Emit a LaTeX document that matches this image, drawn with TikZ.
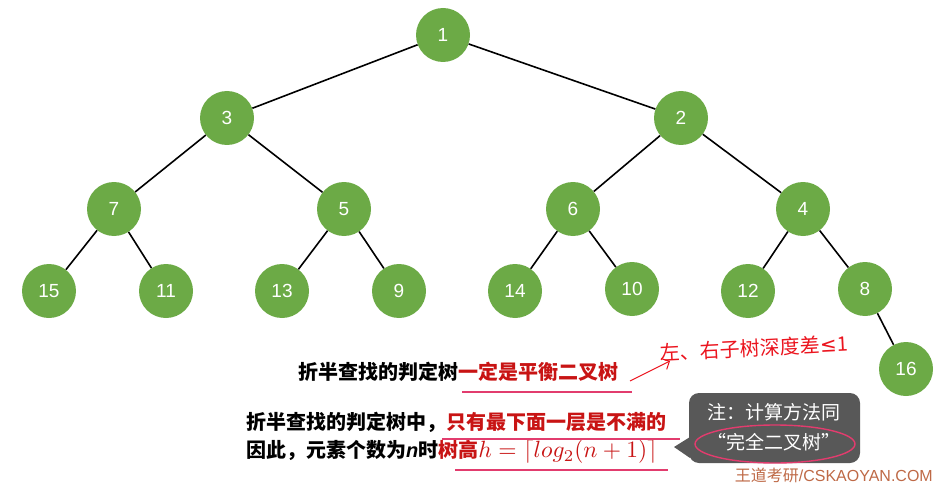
\documentclass[tikz,border=0pt]{standalone}
\usepackage{graphicx}
\usepackage{fontspec}
\setmainfont{Liberation Sans}
\newfontfamily\cjk{Noto Sans CJK SC}
\newfontfamily\djv{DejaVu Sans}
\usetikzlibrary{arrows.meta}
\definecolor{tgreen}{RGB}{108,170,70}
\definecolor{dred}{RGB}{200,20,20}
\definecolor{hred}{RGB}{235,20,30}
\definecolor{upink}{RGB}{226,60,110}
\definecolor{bubble}{RGB}{88,88,88}
\definecolor{wm}{RGB}{190,105,70}
\begin{document}
\begin{tikzpicture}[x=1pt,y=-1pt,
  tnode/.style={circle,fill=tgreen,minimum size=54pt,inner sep=0pt,text=white,font=\fontsize{19}{19}\selectfont},
  edge/.style={line width=1.6pt,black},
  uline/.style={line width=1.2pt,upink},
  txt/.style={anchor=west,inner sep=0pt,font=\cjk\bfseries\fontsize{20}{20}\selectfont}]
\useasboundingbox (0,0) rectangle (942,484);
\node[tnode] (n1) at (443,35) {1};
\node[tnode] (n3) at (227,118) {3};
\node[tnode] (n2) at (681,118) {2};
\node[tnode] (n7) at (114,209) {7};
\node[tnode] (n5) at (344,209) {5};
\node[tnode] (n6) at (573,209) {6};
\node[tnode] (n4) at (803,209) {4};
\node[tnode] (n15) at (49,291) {15};
\node[tnode] (n11) at (166,291) {11};
\node[tnode] (n13) at (282,291) {13};
\node[tnode] (n9) at (399,291) {9};
\node[tnode] (n14) at (515,291) {14};
\node[tnode] (n10) at (632,289) {10};
\node[tnode] (n12) at (748,291) {12};
\node[tnode] (n8) at (865,289) {8};
\node[tnode] (n16) at (906,369) {16};
\foreach \a/\b in {n1/n3,n1/n2,n3/n7,n3/n5,n2/n6,n2/n4,n7/n15,n7/n11,n5/n13,n5/n9,n6/n14,n6/n10,n4/n12,n4/n8,n8/n16}
  \draw[edge] (\a) -- (\b);
% text lines
\node[txt] (l1) at (298,372) {折半查找的判定树\textcolor{dred}{一定是平衡二叉树}};
\node[txt] (l2) at (246,422) {折半查找的判定树中，\textcolor{dred}{只有最下面一层是不满的}};
\node[txt] (l3) at (246,452) {因此，元素个数为{\fontspec{Liberation Sans}\bfseries\itshape n}时\textcolor{dred}{树高{\fontsize{10}{12}\selectfont\scalebox{2.35}{$h=\lceil log_2(n+1)\rceil$}}}};
\coordinate (u1a) at (462,392); \coordinate (u1b) at (632,392);
\coordinate (u2a) at (442,439); \coordinate (u2b) at (680,439);
\coordinate (u3a) at (455,470); \coordinate (u3b) at (668,470);
\draw[uline] (u1a) -- (u1b);
\draw[uline] (u2a) -- (u2b);
\draw[uline] (u3a) -- (u3b);
% handwritten note
\coordinate (ha) at (630,381); \coordinate (hb) at (670,361);
\draw[hred,line width=1pt,-{Straight Barb[length=6pt]}] (ha) -- (hb);
\node[anchor=west,inner sep=0pt,text=hred,rotate=3,font=\cjk\fontsize{20}{20}\selectfont] (hw) at (660,353) {左、右子树深度差{\djv ≤}1};
% callout
\fill[bubble,rounded corners=10pt] (689,393) rectangle (860,463);
\coordinate (tip) at (674,447);
\fill[bubble] (690,437) -- (tip) -- (690,458) -- cycle;
\node[text=white,inner sep=0pt,font=\cjk\fontsize{19}{19}\selectfont] (c1) at (774,412) {注：计算方法同};
\node[text=white,inner sep=0pt,font=\cjk\fontsize{19}{19}\selectfont] (c2) at (774,442) {“完全二叉树”};
\draw[upink,line width=1.4pt] (775,444) ellipse [x radius=80pt,y radius=19pt];
% watermark
\node[anchor=east,inner sep=0pt,text=wm,font=\fontsize{16}{16}\selectfont] (wmk) at (933,475) {{\cjk 王道考研}/CSKAOYAN.COM};
\end{tikzpicture}
\end{document}
